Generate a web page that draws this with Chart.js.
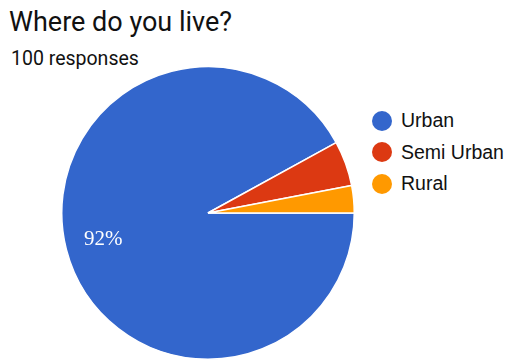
<!DOCTYPE html>
<html>
<head>
<meta charset="utf-8">
<script src="https://cdn.jsdelivr.net/npm/chart.js@4"></script>
<style>
  body { margin: 0; background: #fff; width: 507px; height: 361px; overflow: hidden; position: relative; font-family: Roboto, Arial, sans-serif; }
  .title { position: absolute; left: 9px; top: 6px; font-size: 27px; color: #111; }
  .subtitle { position: absolute; left: 11px; top: 47px; font-size: 19.5px; color: #111; }
  #pie-wrap { position: absolute; left: 61px; top: 66px; width: 294px; height: 294px; }
  .legend { position: absolute; left: 372px; top: 105px; font-family: Arial, "Liberation Sans", sans-serif; font-size: 19.5px; color: #111; }
  .legend div { height: 31.5px; display: flex; align-items: center; }
  .legend span.dot { width: 20px; height: 20px; border-radius: 50%; margin-right: 9px; display: inline-block; }
</style>
</head>
<body>
<div class="title">Where do you live?</div>
<div class="subtitle">100 responses</div>
<div id="pie-wrap"><canvas id="pie" width="294" height="294"></canvas></div>
<div class="legend" id="legend"></div>
<script>
const categories = ['Urban', 'Semi Urban', 'Rural'];
const responses = [92, 5, 3];
const colors = ['#3366cc', '#dc3912', '#ff9900'];

// build the legend next to the pie
let legendHTML = '';
categories.forEach((name, i) => {
  legendHTML += `<div><span class="dot" style="background:${colors[i]}"></span>${name}</div>`;
});
document.getElementById('legend').innerHTML = legendHTML;

// percent label inside slices big enough to hold it
const percentLabels = {
  id: 'percentLabels',
  afterDatasetsDraw(chart) {
    const ctx = chart.ctx;
    const total = responses.reduce((a, b) => a + b, 0);
    chart.getDatasetMeta(0).data.forEach((arc, i) => {
      const pct = responses[i] / total * 100;
      if (pct < 10) return;
      const mid = (arc.startAngle + arc.endAngle) / 2;
      const r = arc.outerRadius * 0.74;
      ctx.save();
      ctx.fillStyle = '#fff';
      ctx.font = '21px "Liberation Serif", "DejaVu Serif", serif';
      ctx.textAlign = 'center';
      ctx.textBaseline = 'middle';
      ctx.fillText(Math.round(pct) + '%', arc.x + Math.cos(mid) * r, arc.y + Math.sin(mid) * r);
      ctx.restore();
    });
  }
};

new Chart(document.getElementById('pie'), {
  type: 'pie',
  data: {
    labels: categories,
    datasets: [{
      data: responses,
      backgroundColor: colors,
      borderColor: '#fff',
      borderWidth: 1.5
    }]
  },
  options: {
    responsive: false,
    animation: false,
    rotation: 90,
    layout: { padding: 0 },
    plugins: {
      legend: { display: false },
      tooltip: { enabled: false }
    }
  },
  plugins: [percentLabels]
});
</script>
</body>
</html>
